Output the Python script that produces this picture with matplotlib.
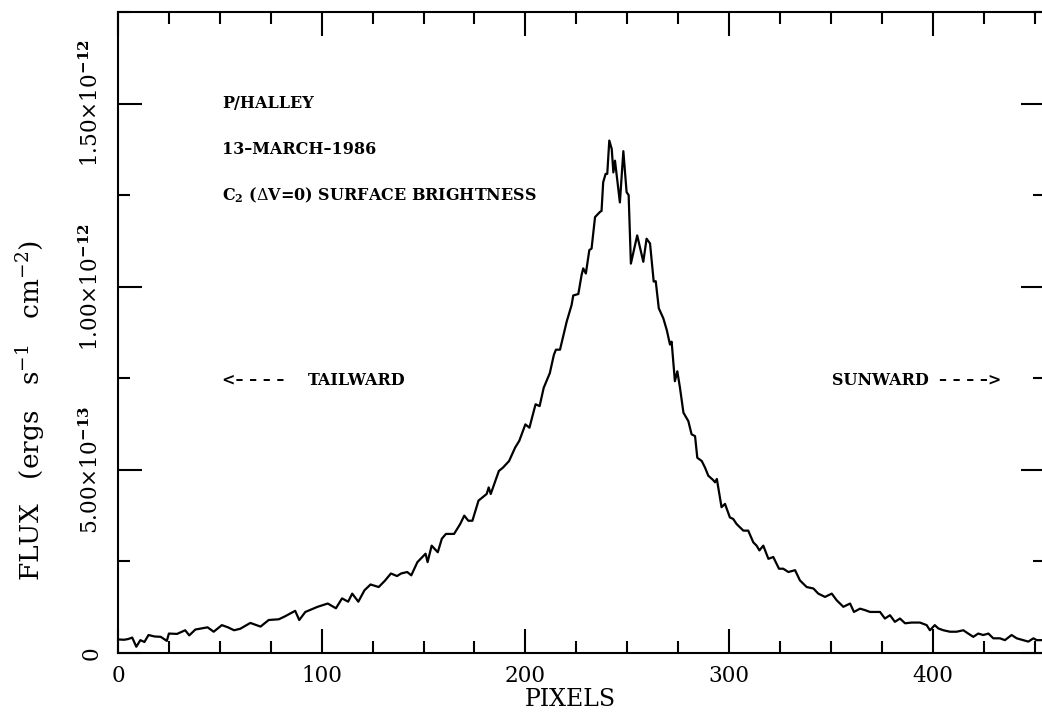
import numpy as np
import matplotlib
matplotlib.use("Agg")
import matplotlib.pyplot as plt
from matplotlib.ticker import MultipleLocator, FixedLocator

plt.rcParams['font.family'] = 'DejaVu Serif'
plt.rcParams['mathtext.fontset'] = 'dejavuserif'

# C2 surface brightness profile (flux in units of 1e-13)
pixels = [0, 3, 5, 7, 9, 11, 13, 15, 18, 21, 24, 25, 29, 33, 35, 38, 41, 44, 47,
          51, 54, 57, 60, 65, 70, 74, 79, 82, 87, 89, 92, 98, 103, 107, 110, 113,
          115, 118, 121, 124, 128, 131, 134, 137, 139, 142, 144, 147, 151, 152,
          154, 157, 159, 161, 165, 168, 170, 172, 174, 177, 179, 181, 182, 183,
          187, 189, 192, 195, 197, 200, 202, 205, 207, 209, 212, 214, 215, 217,
          220.3, 222.7, 223.5, 226.0, 227.6, 228.4, 229.7, 231.4, 232.5, 234.2,
          236.6, 237.4, 238.2, 239.4, 240.2, 241.2, 242.4, 243.2, 244.0, 246.4,
          248.1, 249.7, 250.7, 251.8, 254.9, 257.9, 259.5, 261.2, 263.0, 264.0,
          265.5, 267.7, 269.4, 271.0, 271.8, 273.4, 274.6, 275.9, 277.6, 280.0,
          281.6, 283.3, 284.4, 286.6, 288.2, 289.8, 292.2, 293.1, 294.0, 295.2,
          296.3, 298.0, 300.4, 302.0, 303.7, 307.0, 309.4, 311.9, 313.5, 314.9,
          316.8, 319.3, 321.7, 324.5, 326.6, 329.1, 332.4, 334.8, 338.1, 341.4,
          343.8, 347.1, 350.4, 352.8, 356.1, 359.4, 361.3, 364.3, 366.7, 369.2,
          372.4, 374.1, 376.5, 379.0, 381.4, 383.9, 386.4, 389.6, 393.7, 397.0,
          398.6, 401.0, 402.7, 405.2, 408.4, 411.7, 415.0, 417.4, 419.9, 422.3,
          424.8, 427.3, 429.7, 433.0, 435.4, 438.7, 441.2, 444.4, 446.9, 449.4,
          451.0, 455.0]
flux = [0.37, 0.36, 0.38, 0.42, 0.17, 0.35, 0.30, 0.49, 0.45, 0.44, 0.33, 0.53,
        0.52, 0.62, 0.48, 0.64, 0.67, 0.70, 0.58, 0.76, 0.70, 0.62, 0.66, 0.82,
        0.72, 0.90, 0.92, 1.00, 1.15, 0.90, 1.12, 1.26, 1.35, 1.22, 1.49, 1.40,
        1.62, 1.40, 1.71, 1.87, 1.80, 1.97, 2.17, 2.10, 2.17, 2.21, 2.12, 2.48,
        2.71, 2.48, 2.93, 2.75, 3.12, 3.25, 3.25, 3.52, 3.75, 3.61, 3.61, 4.16,
        4.25, 4.34, 4.52, 4.34, 4.97, 5.06, 5.24, 5.61, 5.79, 6.24, 6.15, 6.79,
        6.74, 7.24, 7.64, 8.14, 8.28, 8.28,
        9.05, 9.50, 9.76, 9.80, 10.32, 10.50, 10.36, 11.00, 11.04, 11.90,
        12.04, 12.07, 12.85, 13.08, 13.08, 13.99, 13.76, 13.12, 13.44, 12.30,
        13.70, 12.58, 12.50, 10.63, 11.40, 10.68, 11.31, 11.18, 10.14, 10.15,
        9.41, 9.14, 8.82, 8.42, 8.50, 7.42, 7.69, 7.24, 6.56, 6.33,
        5.97, 5.92, 5.33, 5.24, 5.06, 4.84, 4.72, 4.66, 4.75, 4.34,
        3.98, 4.07, 3.70, 3.66, 3.52, 3.34, 3.34, 3.02, 2.93, 2.80,
        2.93, 2.57, 2.62, 2.30, 2.30, 2.21, 2.26, 1.98, 1.80, 1.76,
        1.62, 1.53, 1.62, 1.44, 1.26, 1.35, 1.12, 1.21, 1.17, 1.12,
        1.12, 1.12, 0.94, 1.03, 0.85, 0.94, 0.81, 0.83, 0.83, 0.76,
        0.62, 0.76, 0.67, 0.62, 0.58, 0.58, 0.62, 0.53, 0.44, 0.53,
        0.49, 0.53, 0.40, 0.40, 0.35, 0.49, 0.40, 0.35, 0.31, 0.40,
        0.35, 0.35]

ytick_vals = [0, 5e-13, 1e-12, 1.5e-12]
ytick_labels = ['0', r'5.00$\times$10$^{\mathbf{-13}}$',
                r'1.00$\times$10$^{\mathbf{-12}}$',
                r'1.50$\times$10$^{\mathbf{-12}}$']
xtick_vals = [0, 100, 200, 300, 400]

fig = plt.figure(figsize=(10.42, 7.13), dpi=100)
ax = fig.add_axes([0.1132, 0.0842, 0.8895, 0.899])

ax.plot(pixels, np.array(flux) * 1e-13, color='black', lw=1.6)

ax.set_xlim(0, 455)
ax.set_ylim(0, 1.75e-12)
ax.xaxis.set_major_locator(FixedLocator(xtick_vals))
ax.xaxis.set_minor_locator(MultipleLocator(25))
ax.yaxis.set_major_locator(FixedLocator(ytick_vals))
ax.yaxis.set_minor_locator(MultipleLocator(2.5e-13))
ax.set_xticklabels([str(v) for v in xtick_vals])
ax.set_yticklabels(ytick_labels, rotation=90, va='center')

ax.tick_params(which='both', direction='in', top=True, right=True, width=1.5,
               labelsize=15.5)
ax.tick_params(which='major', length=17.5)
ax.tick_params(axis='x', which='major', pad=9)
ax.tick_params(axis='y', which='major', pad=11)
ax.tick_params(which='minor', length=8.5)
for s in ax.spines.values():
    s.set_linewidth(1.5)

fig.text(0.547, 0.019, 'PIXELS', fontsize=17, ha='center', va='center')
fig.text(0.029, 0.425, r'FLUX   (ergs   s$^{-1}$   cm$^{-2}$)', rotation=90,
         fontsize=19, ha='center', va='center')

bold = dict(fontsize=11.5, fontweight='bold', va='center', ha='left')
ax.text(51, 1.5e-12, 'P/HALLEY', **bold)
ax.text(51, 1.375e-12, '13\u2013MARCH\u20131986', **bold)
ax.text(51, 1.25e-12, r'C$_\mathbf{2}$ ($\Delta$V=0) SURFACE BRIGHTNESS', **bold)
ax.text(51, 7.45e-13, '<\u2013 \u2013 \u2013 \u2013', **bold)
ax.text(93.3, 7.45e-13, 'TAILWARD', **bold)
ax.text(350.5, 7.45e-13, 'SUNWARD', **bold)
ax.text(403, 7.45e-13, '\u2013 \u2013 \u2013 \u2013>', **bold)

fig.savefig('out.png', dpi=100)
